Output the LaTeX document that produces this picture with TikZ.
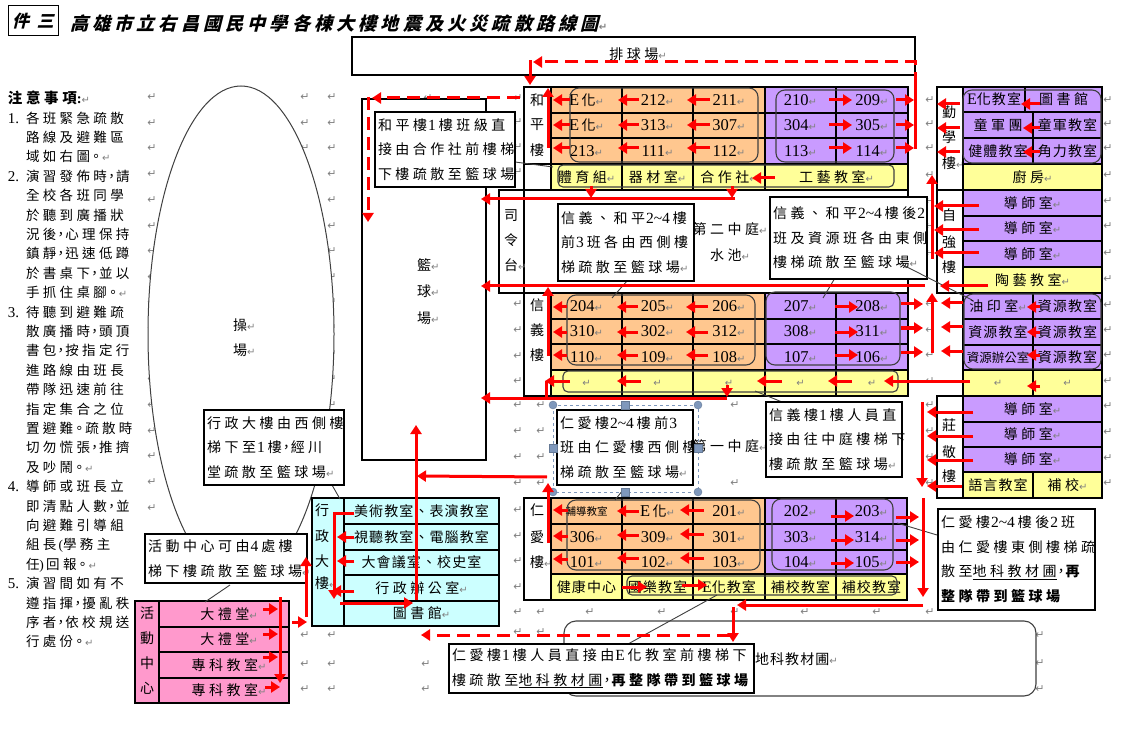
\documentclass[tikz,border=0pt]{standalone}
\usepackage{fontspec}
\usetikzlibrary{arrows.meta}
\setmainfont[LetterSpace=25]{Noto Sans CJK TC}
\newfontfamily\nmf{Liberation Serif}
\newfontfamily\djvf{DejaVu Sans}
\newfontfamily\ttlf[FakeSlant=0.25,LetterSpace=22]{Noto Sans CJK TC}
\newfontfamily\tightf[LetterSpace=8]{Noto Sans CJK TC}
\newfontfamily\tightg{Noto Sans CJK TC}
\definecolor{orangec}{HTML}{FFC78F}
\definecolor{purplec}{HTML}{C99BFF}
\definecolor{yellowc}{HTML}{FFFF99}
\definecolor{cyanc}{HTML}{CCFFFF}
\definecolor{pinkc}{HTML}{FF99CC}
\definecolor{retgray}{HTML}{808080}
\definecolor{rndgray}{HTML}{404040}
\definecolor{handlec}{HTML}{7F98BC}
\newcommand{\myret}{{\color{retgray}\fontsize{10}{10}\selectfont\djvf ↵}}
\newcommand{\myR}{\rlap{\myret}}
\newcommand{\myN}[1]{{\nmf\fontsize{16.5}{20}\selectfont #1}\myret}
\newcommand{\myEa}{{\nmf\fontsize{16.5}{20}\selectfont E}\,}
\newcommand{\myCm}{\makebox[9pt][c]{，}}
\newcommand{\myPp}{\makebox[12pt][c]{。}}
\newcommand{\myTg}[1]{{\tightf #1}}
\newcommand{\myTgg}[1]{{\tightg\fontsize{12.5}{14}\selectfont #1}}
\newcommand{\myD}[1]{\hspace{1pt}{\nmf\fontsize{15.5}{18}\selectfont #1}\hspace{3pt}}
\newcommand{\Ln}[1]{\mbox{#1}}
\newcommand{\tcell}[7]{%
  \pgfmathsetmacro\cw{#4-#2}\pgfmathsetmacro\ch{#5-#3}%
  \pgfmathsetmacro\cx{(#2+#4)/2}\pgfmathsetmacro\cy{(#3+#5)/2}%
  \node[cellnode,fill=#6,minimum width=\cw pt,minimum height=\ch pt] (#1) at (\cx,\cy) {#7};}
\newcommand{\callout}[6]{%
  \pgfmathsetmacro\cw{#4-#2}\pgfmathsetmacro\ch{#5-#3}%
  \pgfmathsetmacro\cx{(#2+#4)/2}\pgfmathsetmacro\cy{(#3+#5)/2}%
  \pgfmathsetmacro\tw{#4-#2-6}%
  \node[calloutnode,minimum width=\cw pt,minimum height=\ch pt,text width=\tw pt] (#1) at (\cx,\cy) {#6};}
\newcommand{\rbox}[4]{\draw[rnd] (#1,#2) rectangle (#3,#4);}
\newcommand{\rboxs}[4]{\draw[rnds] (#1,#2) rectangle (#3,#4);}
\newcommand{\retcol}[3]{\foreach \yy [count=\ii] in {#3} {\node[retmark] (#1\ii) at (#2,\yy) {↵};}}
\newcommand{\noteA}[2]{\makebox[18pt][l]{\nmf\fontsize{15}{19}\selectfont #1}#2\\}
\newcommand{\noteB}[1]{\hspace*{18pt}#1\\}
\tikzset{
  cellnode/.style={draw=black,line width=1.2pt,rectangle,inner sep=0pt,outer sep=0pt,align=center},
  calloutnode/.style={draw=black,line width=1.2pt,fill=white,rectangle,inner sep=3pt,outer sep=0pt,align=left,font=\fontsize{14}{24.5}\selectfont},
  plainlabel/.style={inner sep=0pt,outer sep=0pt},
  rnd/.style={draw=rndgray,line width=1.1pt,rounded corners=9pt},
  rnds/.style={draw=rndgray,line width=1.1pt,rounded corners=5pt},
  retmark/.style={inner sep=0pt,text=retgray,font=\fontsize{11}{11}\selectfont\djvf},
  rar/.style={draw=red,line width=3pt,-{Triangle[length=9pt,width=11pt]}},
  rln/.style={draw=red,line width=3pt},
  rdash/.style={rar,dash pattern=on 13pt off 7pt},
  leader/.style={draw=rndgray,line width=0.9pt},
  hcirc/.style={circle,fill=handlec,draw=handlec!80!black,inner sep=0pt,minimum size=8pt},
  hsq/.style={rectangle,fill=handlec,draw=handlec!80!black,inner sep=0pt,minimum size=8pt},
}
\begin{document}
\begin{tikzpicture}[x=1pt,y=-1pt,font=\fontsize{14}{19}\selectfont]
\fill[white] (0,0) rectangle (1128,738);
\useasboundingbox (0,0) rectangle (1128,738);
% paragraph marks
\retcol{ra}{152}{97,123,148,174,200,226,251,277,302,328,354,379,405,431,456,482,508}
\retcol{rb}{188}{175,201,226,252,277,302}
\retcol{rc}{305}{97,123,148}
\retcol{rd}{332}{97,123,148,174,200,226,251,277,302,328,354,379,405}
\retcol{re}{518}{98,122,147,172,304,330,356,381,405,431,457,483,510,536,561,587,612,632}
\retcol{rf}{541}{202,225,252,277,405,431,457,483,612,632}
\retcol{rg}{590}{203,612}
\retcol{rh}{662}{203,612}
\retcol{ri}{735}{203,278,405,483,612}
\retcol{rj}{428}{98,192,218}
\retcol{rk}{930}{100,124,148,175,201,226,253,304,330,355,381,405,431,457,483,612}
\retcol{rl}{1108}{100,124,148,175,201,226,253,279,305,330,355,381,406,432,458,483}
\retcol{rm}{305}{635,664,689}
\retcol{rn}{332}{635,664,689}
\retcol{ro}{426}{664,689}
\retcol{rp}{805}{612}
\retcol{rq}{877}{612}
\retcol{rr}{1040}{635,663,689}
% title
\node[cellnode,line width=1pt,minimum width=50pt,minimum height=30pt,font=\ttlf\bfseries\fontsize{17}{20}\selectfont] (tag) at (33,21) {件 三};
\node[plainlabel,anchor=west,font=\ttlf\bfseries\fontsize{18.2}{20}\selectfont] (title) at (70,24) {高雄市立右昌國民中學各棟大樓地震及火災疏散路線圖\myret};
% notes
\node[plainlabel,anchor=north west,align=left,font=\fontsize{13.5}{19.4}\selectfont] (notes) at (8,91) {%
{\bfseries\fontsize{14.5}{19.4}\selectfont 注意事項{\nmf :}}\myret\\
\noteA{1.}{各班緊急疏散}
\noteB{路線及避難區}
\noteB{域如右圖\myPp\myret}
\noteA{2.}{演習發佈時\myCm 請}
\noteB{全校各班同學}
\noteB{於聽到廣播狀}
\noteB{況後\myCm 心理保持}
\noteB{鎮靜\myCm 迅速低蹲}
\noteB{於書桌下\myCm 並以}
\noteB{手抓住桌腳\myPp\myret}
\noteA{3.}{待聽到避難疏}
\noteB{散廣播時\myCm 頭頂}
\noteB{書包\myCm 按指定行}
\noteB{進路線由班長}
\noteB{帶隊迅速前往}
\noteB{指定集合之位}
\noteB{置避難\myPp 疏散時}
\noteB{切勿慌張\myCm 推擠}
\noteB{及吵鬧\myPp\myret}
\noteA{4.}{導師或班長立}
\noteB{即清點人數\myCm 並}
\noteB{向避難引導組}
\noteB{組長{\nmf\,(}學務主}
\noteB{任{\nmf)\,}回報\myPp\myret}
\noteA{5.}{演習間如有不}
\noteB{遵指揮\myCm 擾亂秩}
\noteB{序者\myCm 依校規送}
\noteB{行處份\myPp\myret}
};
% playground
\draw[draw=rndgray,line width=1pt,fill=white] (241,334) ellipse [x radius=93,y radius=248];
\node[plainlabel] (cao) at (240,325) {操\myR};
\node[plainlabel] (cch) at (240,350) {場\myR};
% volleyball and basketball
\node[cellnode,fill=white,minimum width=563pt,minimum height=38pt] (vball) at (633.5,56) {};
\node[plainlabel] (vtext) at (638,54) {排球場\myret};
\node[cellnode,fill=white,minimum width=124pt,minimum height=361pt] (bball) at (424,279.5) {};
\node[plainlabel] (b1) at (424,265) {籃\myR};
\node[plainlabel] (b2) at (424,291) {球\myR};
\node[plainlabel] (b3) at (424,318) {場\myR};
% courtyard frames
\tcell{ctwo}{499}{190}{908}{293}{white}{}
\tcell{silin}{499}{190}{524}{293}{white}{}
\draw[draw=black,line width=1.2pt] (524,87) -- (524,396);
\draw[draw=black,line width=1.2pt] (551,87) -- (551,190);
\node[plainlabel] (s1) at (511,216) {司};
\node[plainlabel] (s2) at (511,240) {令};
\node[plainlabel] (s3) at (511,265) {台\myR};
\node[plainlabel] (ct2a) at (730,229) {第二中庭\myret};
\node[plainlabel] (ct2b) at (730,255) {水池\myret};
\node[plainlabel] (ct1) at (730,446) {第一中庭\myret};
% Heping
\tcell{hl}{524}{87}{551}{164}{white}{}
\draw[draw=black,line width=1.2pt] (524,87) -- (524,190) (524,190) -- (551,190);
\node[plainlabel] (h1) at (537,100) {和};
\node[plainlabel] (h2) at (537,125) {平};
\node[plainlabel] (h3) at (537,150) {樓};
\tcell{a11}{551}{87}{622}{113}{orangec}{\myEa 化\myret}
\tcell{a12}{622}{87}{693}{113}{orangec}{\myN{212}}
\tcell{a13}{693}{87}{765}{113}{orangec}{\myN{211}}
\tcell{a14}{765}{87}{836}{113}{purplec}{\myN{210}}
\tcell{a15}{836}{87}{908}{113}{purplec}{\myN{209}}
\tcell{a21}{551}{113}{622}{138}{orangec}{\myEa 化\myret}
\tcell{a22}{622}{113}{693}{138}{orangec}{\myN{313}}
\tcell{a23}{693}{113}{765}{138}{orangec}{\myN{307}}
\tcell{a24}{765}{113}{836}{138}{purplec}{\myN{304}}
\tcell{a25}{836}{113}{908}{138}{purplec}{\myN{305}}
\tcell{a31}{551}{138}{622}{164}{orangec}{\myN{213}}
\tcell{a32}{622}{138}{693}{164}{orangec}{\myN{111}}
\tcell{a33}{693}{138}{765}{164}{orangec}{\myN{112}}
\tcell{a34}{765}{138}{836}{164}{purplec}{\myN{113}}
\tcell{a35}{836}{138}{908}{164}{purplec}{\myN{114}}
\tcell{a41}{551}{164}{622}{190}{yellowc}{體育組\myret}
\tcell{a42}{622}{164}{693}{190}{yellowc}{器材室\myret}
\tcell{a43}{693}{164}{765}{190}{yellowc}{合作社\myret}
\tcell{a44}{765}{164}{908}{190}{yellowc}{工藝教室\myret}
\rbox{570}{88}{758}{162}
\rbox{776}{90}{894}{162}
\rboxs{558}{165}{894}{187}
% Xinyi
\tcell{xl}{524}{293}{551}{396}{white}{}
\node[plainlabel] (x1) at (537,305) {信};
\node[plainlabel] (x2) at (537,330) {義};
\node[plainlabel] (x3) at (537,355) {樓};
\tcell{b11}{551}{293}{622}{319}{orangec}{\myN{204}}
\tcell{b12}{622}{293}{693}{319}{orangec}{\myN{205}}
\tcell{b13}{693}{293}{765}{319}{orangec}{\myN{206}}
\tcell{b14}{765}{293}{836}{319}{purplec}{\myN{207}}
\tcell{b15}{836}{293}{908}{319}{purplec}{\myN{208}}
\tcell{b21}{551}{319}{622}{344}{orangec}{\myN{310}}
\tcell{b22}{622}{319}{693}{344}{orangec}{\myN{302}}
\tcell{b23}{693}{319}{765}{344}{orangec}{\myN{312}}
\tcell{b24}{765}{319}{836}{344}{purplec}{\myN{308}}
\tcell{b25}{836}{319}{908}{344}{purplec}{\myN{311}}
\tcell{b31}{551}{344}{622}{370}{orangec}{\myN{110}}
\tcell{b32}{622}{344}{693}{370}{orangec}{\myN{109}}
\tcell{b33}{693}{344}{765}{370}{orangec}{\myN{108}}
\tcell{b34}{765}{344}{836}{370}{purplec}{\myN{107}}
\tcell{b35}{836}{344}{908}{370}{purplec}{\myN{106}}
\tcell{b41}{551}{370}{622}{396}{yellowc}{\myret}
\tcell{b42}{622}{370}{693}{396}{yellowc}{\myret}
\tcell{b43}{693}{370}{765}{396}{yellowc}{\myret}
\tcell{b44}{765}{370}{836}{396}{yellowc}{\myret}
\tcell{b45}{836}{370}{908}{396}{yellowc}{\myret}
\rbox{567}{295}{755}{365}
\rbox{766}{292}{900}{365}
\rboxs{563}{371}{898}{392}
% Ren-ai
\tcell{rl0}{524}{498}{551}{600}{white}{}
\node[plainlabel] (r1t) at (537,510) {仁};
\node[plainlabel] (r2t) at (537,537) {愛};
\node[plainlabel] (r3t) at (537,562) {樓\myR};
\tcell{c11}{551}{498}{622}{524}{orangec}{\myTgg{\fontsize{10.5}{12}\selectfont 輔導教室}}
\tcell{c12}{622}{498}{693}{524}{orangec}{\myEa 化\myret}
\tcell{c13}{693}{498}{765}{524}{orangec}{\myN{201}}
\tcell{c14}{765}{498}{836}{524}{purplec}{\myN{202}}
\tcell{c15}{836}{498}{907}{524}{purplec}{\myN{203}}
\tcell{c21}{551}{524}{622}{550}{orangec}{\myN{306}}
\tcell{c22}{622}{524}{693}{550}{orangec}{\myN{309}}
\tcell{c23}{693}{524}{765}{550}{orangec}{\myN{301}}
\tcell{c24}{765}{524}{836}{550}{purplec}{\myN{303}}
\tcell{c25}{836}{524}{907}{550}{purplec}{\myN{314}}
\tcell{c31}{551}{550}{622}{574}{orangec}{\myN{101}}
\tcell{c32}{622}{550}{693}{574}{orangec}{\myN{102}}
\tcell{c33}{693}{550}{765}{574}{orangec}{\myN{103}}
\tcell{c34}{765}{550}{836}{574}{purplec}{\myN{104}}
\tcell{c35}{836}{550}{907}{574}{purplec}{\myN{105}}
\tcell{c41}{551}{574}{622}{600}{yellowc}{\myTg{健康中心}}
\tcell{c42}{622}{574}{693}{600}{yellowc}{\myTg{國樂教室}}
\tcell{c43}{693}{574}{765}{600}{yellowc}{\myTg{{\nmf\fontsize{16}{18}\selectfont E}化教室}}
\tcell{c44}{765}{574}{836}{600}{yellowc}{\myTg{補校教室}}
\tcell{c45}{836}{574}{907}{600}{yellowc}{\myTg{補校教室}}
\rbox{567}{500}{760}{570}
\rbox{772}{499}{893}{570}
\rboxs{627}{576}{897}{595}
% Qinxue
\tcell{ql}{937}{87}{963}{190}{white}{}
\node[plainlabel] (q1) at (949,112) {勤};
\node[plainlabel] (q2) at (949,137) {學};
\node[plainlabel] (q3) at (949,163) {樓\myR};
\tcell{d11}{963}{87}{1025}{112}{purplec}{\myTg{{\nmf\fontsize{16}{18}\selectfont E}化教室}}
\tcell{d12}{1025}{87}{1102}{112}{purplec}{圖書館}
\tcell{d21}{963}{112}{1033}{138}{purplec}{童軍團}
\tcell{d22}{1033}{112}{1102}{138}{purplec}{\myTg{童軍教室}}
\tcell{d31}{963}{138}{1033}{164}{purplec}{\myTg{健體教室}}
\tcell{d32}{1033}{138}{1102}{164}{purplec}{\myTg{角力教室}}
\tcell{d41}{963}{164}{1102}{190}{yellowc}{廚房\myret}
\rbox{963}{90}{1101}{163}
% Ziqiang
\tcell{zl}{937}{190}{963}{293}{white}{}
\node[plainlabel] (z1) at (949,215) {自};
\node[plainlabel] (z2) at (949,242) {強};
\node[plainlabel] (z3) at (949,267) {樓};
\tcell{e1}{963}{190}{1102}{216}{purplec}{導師室\myret}
\tcell{e2}{963}{216}{1102}{241}{purplec}{導師室\myret}
\tcell{e3}{963}{241}{1102}{267}{purplec}{導師室\myret}
\tcell{e4}{963}{267}{1102}{293}{yellowc}{陶藝教室\myret}
% resources
\tcell{f11}{963}{293}{1033}{319}{purplec}{油印室\myret}
\tcell{f12}{1033}{293}{1102}{319}{purplec}{\myTg{資源教室}}
\tcell{f21}{963}{319}{1033}{345}{purplec}{\myTg{資源教室}}
\tcell{f22}{1033}{319}{1102}{345}{purplec}{\myTg{資源教室}}
\tcell{f31}{963}{345}{1033}{370}{purplec}{\myTgg{資源辦公室}}
\tcell{f32}{1033}{345}{1102}{370}{purplec}{\myTg{資源教室}}
\tcell{f41}{963}{370}{1033}{396}{yellowc}{\myret}
\tcell{f42}{1033}{370}{1102}{396}{yellowc}{\myret}
\rbox{964}{294}{1101}{369}
% Zhuangjing
\tcell{gl}{937}{396}{963}{498}{white}{}
\node[plainlabel] (g1) at (949,425) {莊};
\node[plainlabel] (g2) at (949,452) {敬};
\node[plainlabel] (g3) at (949,476) {樓};
\tcell{g11}{963}{396}{1102}{422}{purplec}{導師室\myret}
\tcell{g21}{963}{422}{1102}{447}{purplec}{導師室\myret}
\tcell{g31}{963}{447}{1102}{472}{purplec}{導師室\myret}
\tcell{g41}{963}{472}{1033}{498}{yellowc}{\myTg{語言教室}}
\tcell{g42}{1033}{472}{1102}{498}{yellowc}{補校\myret}
% Admin
\tcell{il}{312}{498}{344}{626}{cyanc}{}
\node[plainlabel] (i1) at (322,510) {行};
\node[plainlabel] (i2) at (322,536) {政};
\node[plainlabel] (i3) at (322,561) {大};
\node[plainlabel] (i4) at (322,583) {樓\myR};
\tcell{i11}{344}{498}{499}{524}{cyanc}{\myTg{美術教室、表演教室}}
\tcell{i21}{344}{524}{499}{550}{cyanc}{\myTg{視聽教室、電腦教室}}
\tcell{i31}{344}{550}{499}{575}{cyanc}{\myTg{大會議室、校史室}}
\tcell{i41}{344}{575}{499}{601}{cyanc}{行政辦公室\myret}
\tcell{i51}{344}{601}{499}{626}{cyanc}{圖書館\myret}
% Activity
\tcell{jl}{135}{601}{159}{703}{pinkc}{}
\node[plainlabel] (j1) at (147,613) {活};
\node[plainlabel] (j2) at (147,638) {動};
\node[plainlabel] (j3) at (147,663) {中};
\node[plainlabel] (j4) at (147,688) {心};
\tcell{j11}{159}{601}{289}{627}{pinkc}{\hspace*{10pt}大禮堂\myret}
\tcell{j21}{159}{627}{289}{652}{pinkc}{\hspace*{10pt}大禮堂\myret}
\tcell{j31}{159}{652}{289}{678}{pinkc}{\hspace*{10pt}專科教室\myret}
\tcell{j41}{159}{678}{289}{703}{pinkc}{\hspace*{10pt}專科教室\myret}
% large rounded box
\draw[draw=rndgray,line width=1.1pt,fill=white,rounded corners=12pt] (564,621) rectangle (1036,696);
\node[plainlabel,anchor=west] (earth) at (755,659) {\myTg{地科教材圃}\myret};
% leaders
\coordinate (l0) at (515,162);
\coordinate (l1) at (553,167);
\coordinate (l2a) at (627,281);
\coordinate (l2) at (612,298);
\coordinate (l3a) at (838,273);
\coordinate (l3) at (823,298);
\coordinate (l4a) at (903,265);
\coordinate (l4) at (972,300);
\coordinate (l5a) at (787,404);
\coordinate (l5) at (755,391);
\coordinate (l6a) at (623,490);
\coordinate (l6) at (615,500);
\coordinate (l7a) at (332,485);
\coordinate (l7) at (340,499);
\coordinate (l8a) at (230,585);
\coordinate (l8) at (205,602);
\coordinate (l9a) at (937,535);
\coordinate (l9) at (897,523);
\coordinate (l10a) at (628,644);
\coordinate (l10) at (717,595);
\draw[leader] (l0) -- (l1);
\draw[leader] (l2a) -- (l2);
\draw[leader] (l3a) -- (l3);
\draw[leader] (l5a) -- (l5);
\draw[leader] (l6a) -- (l6);
\draw[leader] (l7a) -- (l7);
\draw[leader] (l8a) -- (l8);
\draw[leader] (l9a) -- (l9);
\draw[leader] (l10a) -- (l10);
% callouts
\callout{ca}{375}{112}{515}{187}{\Ln{和平樓\myD{1}樓班級直}\\\Ln{接由合作社前樓梯}\\\Ln{下樓疏散至籃球場}}
\callout{cb}{558}{204}{694}{281}{\Ln{信義、和平\myD{2\textasciitilde 4}樓}\\\Ln{前\myD{3}班各由西側樓}\\\Ln{梯疏散至籃球場\myret}}
\callout{cc}{770}{197}{927}{279}{\Ln{信義、和平\myD{2\textasciitilde 4}樓後\myD{2}}\\\Ln{班及資源班各由東側}\\\Ln{樓梯疏散至籃球場\myret}}
\draw[leader] (l4a) -- (l4);
\callout{cd}{766}{402}{902}{477}{\Ln{信義樓\myD{1}樓人員直}\\\Ln{接由往中庭樓梯下}\\\Ln{樓疏散至籃球場\myret}}
\draw[draw=handlec,line width=0.8pt,dashed] (553,405) rectangle (698,492);
\callout{ce}{557}{410}{693}{485}{\Ln{仁愛樓\myD{2\textasciitilde 4}樓前\myD{3}}\\\Ln{班由仁愛樓西側樓}\\\Ln{梯疏散至籃球場\myret}}
\foreach \hx/\hy [count=\ii] in {553/405,698/405,553/492,698/492} {\node[hcirc] (hc\ii) at (\hx,\hy) {};}
\foreach \hx/\hy [count=\ii] in {625/405,553/448,698/448,625/492} {\node[hsq] (hs\ii) at (\hx,\hy) {};}
\callout{cf}{204}{410}{344}{485}{\Ln{行政大樓由西側樓}\\\Ln{梯下至\myD{1}樓\myCm 經川}\\\Ln{堂疏散至籃球場\myret}}
\callout{cg}{145}{534}{307}{583}{\Ln{活動中心可由\myD{4}處樓}\\\Ln{梯下樓疏散至籃球場\myret}}
\callout{ch}{938}{509}{1095}{610}{\Ln{仁愛樓\myD{2\textasciitilde 4}樓後\myD{2}班}\\\Ln{由仁愛樓東側樓梯疏}\\\Ln{散至\underline{地科教材圃}\myCm {\bfseries 再}}\\\Ln{{\bfseries 整隊帶到籃球場}}}
\callout{ci}{449}{644}{754}{693}{\Ln{仁愛樓\myD{1}樓人員直接由\myD{E}化教室前樓梯下}\\\Ln{樓疏散至\underline{地科教材圃}\myCm {\bfseries 再整隊帶到籃球場}}}
% Arrows: Heping
\draw[rdash] (915,85) -- (915,62) -- (533,62);
\draw[rar] (530,60.5) -- (530,85);
\draw[rln] (915,149) -- (915,80);
\draw[rdash] (520,98) -- (372,98);
\draw[rdash] (368,97) -- (368,222);
\draw[rar] (548,148) -- (548,88);
\foreach \yy in {100,125,148} {
  \draw[rar] (570,\yy) -- (553,\yy);
  \draw[rar] (639,\yy) -- (618,\yy);
  \draw[rar] (710,\yy) -- (687,\yy);
  \draw[rar] (829,\yy) -- (852,\yy);
  \draw[rar] (896,\yy) -- (914,\yy);
}
\draw[rar] (775,178) -- (752,178);
\draw[rar] (735,199) -- (481,199);
\draw[rar] (591,186) -- (591,198);
\draw[rar] (732,186) -- (732,198);
% Xinyi
\draw[rar] (925,286) -- (481,286);
\draw[rar] (548,356) -- (548,287);
\foreach \yy in {307,332,355} {
  \draw[rar] (567,\yy) -- (553,\yy);
  \draw[rar] (638,\yy) -- (617,\yy);
  \draw[rar] (708,\yy) -- (686,\yy);
  \draw[rar] (835,\yy) -- (858,\yy);
}
\draw[rar] (901,304) -- (923,304);
\draw[rar] (901,328) -- (923,328);
\draw[rar] (901,352) -- (923,352);
\draw[rar] (932,353) -- (932,293);
\foreach \yy in {303,327,351} {\draw[rar] (963,\yy) -- (941,\yy);}
\draw[rar] (1040,307) -- (1027,307);
\draw[rar] (1040,332) -- (1027,332);
\draw[rar] (1040,355) -- (1027,355);
\draw[rar] (1040,386) -- (1027,386);
\draw[rar] (970,381) -- (884,381);
\draw[rar] (852,381) -- (828,381);
\draw[rar] (782,381) -- (757,381);
\draw[rar] (641,381) -- (617,381);
\draw[rar] (570,381) -- (545,381);
\draw[rln] (546,381) -- (546,397);
\draw[rar] (727,385) -- (727,397);
\draw[rar] (727,398) -- (481,398);
% Qinxue, Ziqiang
\foreach \yy in {104,128,152} {\draw[rar] (960,\yy) -- (937,\yy);}
\draw[rar] (1040,104) -- (1021,104);
\draw[rar] (1040,128) -- (1023,128);
\draw[rar] (1040,152) -- (1023,152);
\draw[rar] (932,259) -- (932,175);
\foreach \yy in {206,230,253} {\draw[rar] (979,\yy) -- (934,\yy);}
\draw[rar] (988,286) -- (940,286);
% Zhuangjing
\draw[rar] (922,402) -- (922,487);
\foreach \yy in {412,436,460} {\draw[rar] (973,\yy) -- (927,\yy);}
\draw[rar] (962,486) -- (927,486);
% Ren-ai
\draw[rar] (923,498) -- (923,597);
\draw[rar] (896,517) -- (919,517);
\draw[rar] (896,540) -- (919,540);
\draw[rar] (896,562) -- (919,562);
\draw[rar] (831,516) -- (854,516);
\draw[rar] (831,540) -- (854,540);
\draw[rar] (831,563) -- (854,563);
\draw[rar] (923,605) -- (737,605);
\draw[rar] (733,607) -- (733,642);
\draw[rdash] (730,635) -- (421,635);
\draw[rar] (548,543) -- (548,483);
\draw[rar] (547,477) -- (417,476);
\draw[rar] (416,600) -- (416,425);
\draw[rar] (568,510) -- (553,510);
\draw[rar] (568,536) -- (553,536);
\draw[rar] (568,559) -- (553,559);
\draw[rar] (639,511) -- (617,511);
\draw[rar] (639,535) -- (617,535);
\draw[rar] (639,558) -- (617,558);
\draw[rar] (704,510) -- (680,510);
\draw[rar] (704,534) -- (680,534);
\draw[rar] (704,558) -- (680,558);
\draw[rar] (622,587) -- (647,587);
\draw[rar] (682,585) -- (707,585);
% Admin
\draw[rar] (334,512) -- (334,599);
\draw[rln] (354,513) -- (334,513);
\draw[rar] (354,537) -- (337,537);
\draw[rar] (354,561) -- (337,561);
\draw[rar] (354,591) -- (332,591);
\draw[rar] (340,603) -- (413,603);
% Activity
\draw[rar] (280,597) -- (280,683);
\draw[rar] (263,609) -- (278,609);
\draw[rar] (263,634) -- (278,634);
\draw[rar] (263,657) -- (278,657);
\draw[rar] (265,687) -- (280,687);
\draw[rar] (292,622) -- (307,622);
\draw[rar] (306,617) -- (306,557);
\end{tikzpicture}
\end{document}
